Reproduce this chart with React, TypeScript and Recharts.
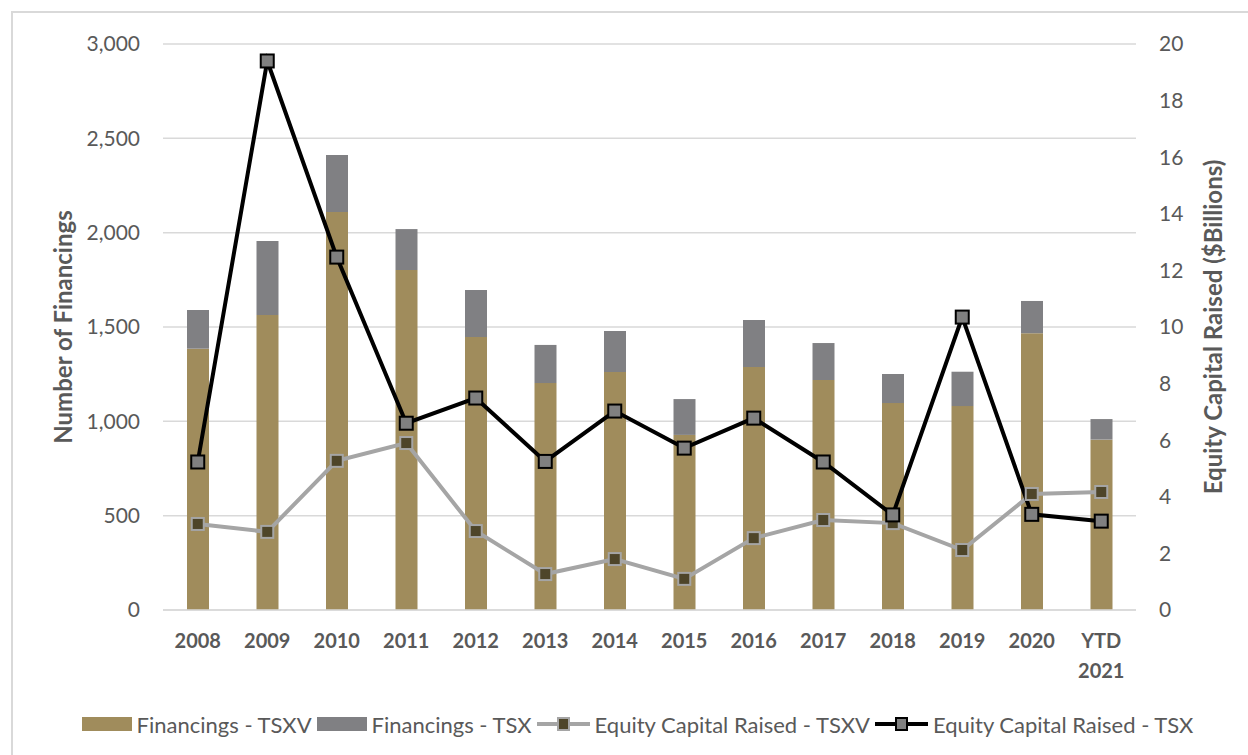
import React from 'react';
import { ComposedChart, Bar, Line, XAxis, YAxis, CartesianGrid, Legend } from 'recharts';

const categories = ['2008', '2009', '2010', '2011', '2012', '2013', '2014', '2015', '2016', '2017', '2018', '2019', '2020', 'YTD 2021'];
const financingsTSXV = [1385, 1563, 2109, 1802, 1447, 1203, 1261, 928, 1288, 1219, 1097, 1081, 1467, 903];
const financingsTSX = [205, 393, 302, 217, 249, 202, 218, 190, 249, 196, 154, 182, 171, 109];
const equityTSXV = [3.04, 2.76, 5.27, 5.9, 2.79, 1.27, 1.8, 1.1, 2.54, 3.18, 3.07, 2.12, 4.1, 4.17];
const equityTSX = [5.23, 19.4, 12.47, 6.6, 7.49, 5.25, 7.03, 5.72, 6.78, 5.23, 3.36, 10.35, 3.38, 3.14];
const leftTicks = [0, 500, 1000, 1500, 2000, 2500, 3000];
const rightTicks = [0, 2, 4, 6, 8, 10, 12, 14, 16, 18, 20];

const data = categories.map((c, i) => ({
  year: c,
  tsxv: financingsTSXV[i],
  tsx: financingsTSX[i],
  eqTsxv: equityTSXV[i],
  eqTsx: equityTSX[i],
}));

const FONT = 'Lato, Carlito, "Open Sans", sans-serif';
const TEXT = '#595959';
const TAN = '#A08C5C';
const GREYBAR = '#808083';
const LINE_TSXV = '#A5A5A5';
const DOT_TSXV = '#4E4529';

const XTick = (props: any) => {
  const { x, y, payload } = props;
  const parts = String(payload.value).split(' ');
  return (
    <text x={x} y={y} textAnchor="middle" fill={TEXT} fontSize={20} fontWeight={700} fontFamily={FONT}>
      {parts.map((p, i) => (
        <tspan key={i} x={x} dy={i === 0 ? 38 : 30}>{p}</tspan>
      ))}
    </text>
  );
};

const SquareDot = (fill: string, stroke: string, size: number) => (props: any) => {
  const { cx, cy, index } = props;
  if (cx == null || cy == null) return <g key={index} />;
  return (
    <rect key={index} x={cx - size / 2} y={cy - size / 2} width={size} height={size} fill={fill} stroke={stroke} strokeWidth={2} />
  );
};

const LineIcon = ({ color, fill, stroke }: { color: string; fill: string; stroke: string }) => (
  <svg width={53} height={16} style={{ display: 'block' }}>
    <line x1={0} y1={8} x2={53} y2={8} stroke={color} strokeWidth={4} />
    <rect x={21} y={2} width={11} height={12} fill={fill} stroke={stroke} strokeWidth={2} />
  </svg>
);

const LegendContent = () => {
  const item = (icon: React.ReactNode, label: string) => (
    <div style={{ display: 'flex', alignItems: 'center', marginRight: 5 }}>
      {icon}
      <span style={{ marginLeft: 5, color: TEXT, fontSize: 22, fontFamily: FONT, whiteSpace: 'nowrap' }}>{label}</span>
    </div>
  );
  return (
    <div style={{ display: 'flex', justifyContent: 'center', alignItems: 'center', height: 30, paddingLeft: 32 }}>
      {item(<div style={{ width: 50, height: 14, background: TAN }} />, 'Financings - TSXV')}
      {item(<div style={{ width: 50, height: 14, background: GREYBAR }} />, 'Financings - TSX')}
      {item(<LineIcon color={LINE_TSXV} fill={DOT_TSXV} stroke={LINE_TSXV} />, 'Equity Capital Raised - TSXV')}
      {item(<LineIcon color="#000000" fill="#808080" stroke="#000000" />, 'Equity Capital Raised - TSX')}
    </div>
  );
};

export default function App() {
  return (
    <div style={{ position: 'absolute', left: 0, top: 0, width: 1248, height: 755, overflow: 'hidden', background: '#fff', fontFamily: FONT }}>
      <div style={{ position: 'absolute', left: 11, top: 11, width: 1260, height: 770, border: '2px solid #D9D9D9', boxSizing: 'border-box' }} />
      <div style={{ position: 'absolute', left: 0, top: 0 }}>
        <ComposedChart width={1248} height={755} data={data} margin={{ top: 44, right: 20, bottom: 16, left: 20 }}>
          <CartesianGrid yAxisId="left" vertical={false} stroke="#D9D9D9" strokeWidth={1.5} />
          <XAxis
            dataKey="year"
            height={99}
            axisLine={{ stroke: '#D9D9D9', strokeWidth: 1.5 }}
            tickLine={false}
            tickSize={0}
            tickMargin={0}
            interval={0}
            tick={<XTick />}
          />
          <YAxis
            yAxisId="left"
            orientation="left"
            width={143}
            domain={[0, 3000]}
            ticks={leftTicks}
            axisLine={false}
            tickLine={false}
            tickSize={0}
            tickMargin={23}
            tickFormatter={(v: number) => v.toLocaleString('en-US')}
            tick={{ fill: TEXT, fontSize: 21, fontFamily: FONT }}
            label={{
              value: 'Number of Financings',
              angle: -90,
              position: 'insideLeft',
              offset: 43,
              style: { textAnchor: 'middle', fill: TEXT, fontSize: 24, fontWeight: 700, fontFamily: FONT },
            }}
          />
          <YAxis
            yAxisId="right"
            orientation="right"
            width={92}
            domain={[0, 20]}
            ticks={rightTicks}
            axisLine={false}
            tickLine={false}
            tickSize={0}
            tickMargin={23}
            tick={{ fill: TEXT, fontSize: 21, fontFamily: FONT }}
            label={{
              value: 'Equity Capital Raised ($Billions)',
              angle: -90,
              position: 'insideRight',
              offset: 15,
              style: { textAnchor: 'middle', fill: TEXT, fontSize: 24, fontWeight: 700, fontFamily: FONT },
            }}
          />
          <Legend verticalAlign="bottom" height={30} content={<LegendContent />} wrapperStyle={{ left: 0, width: 1248 }} />
          <Bar yAxisId="left" dataKey="tsxv" name="Financings - TSXV" stackId="a" fill={TAN} barSize={22} isAnimationActive={false} />
          <Bar yAxisId="left" dataKey="tsx" name="Financings - TSX" stackId="a" fill={GREYBAR} barSize={22} isAnimationActive={false} />
          <Line
            yAxisId="right"
            dataKey="eqTsxv"
            name="Equity Capital Raised - TSXV"
            stroke={LINE_TSXV}
            strokeWidth={4}
            dot={SquareDot(DOT_TSXV, LINE_TSXV, 12)}
            activeDot={false}
            isAnimationActive={false}
          />
          <Line
            yAxisId="right"
            dataKey="eqTsx"
            name="Equity Capital Raised - TSX"
            stroke="#000000"
            strokeWidth={4}
            dot={SquareDot('#808080', '#000000', 13)}
            activeDot={false}
            isAnimationActive={false}
          />
        </ComposedChart>
      </div>
    </div>
  );
}
